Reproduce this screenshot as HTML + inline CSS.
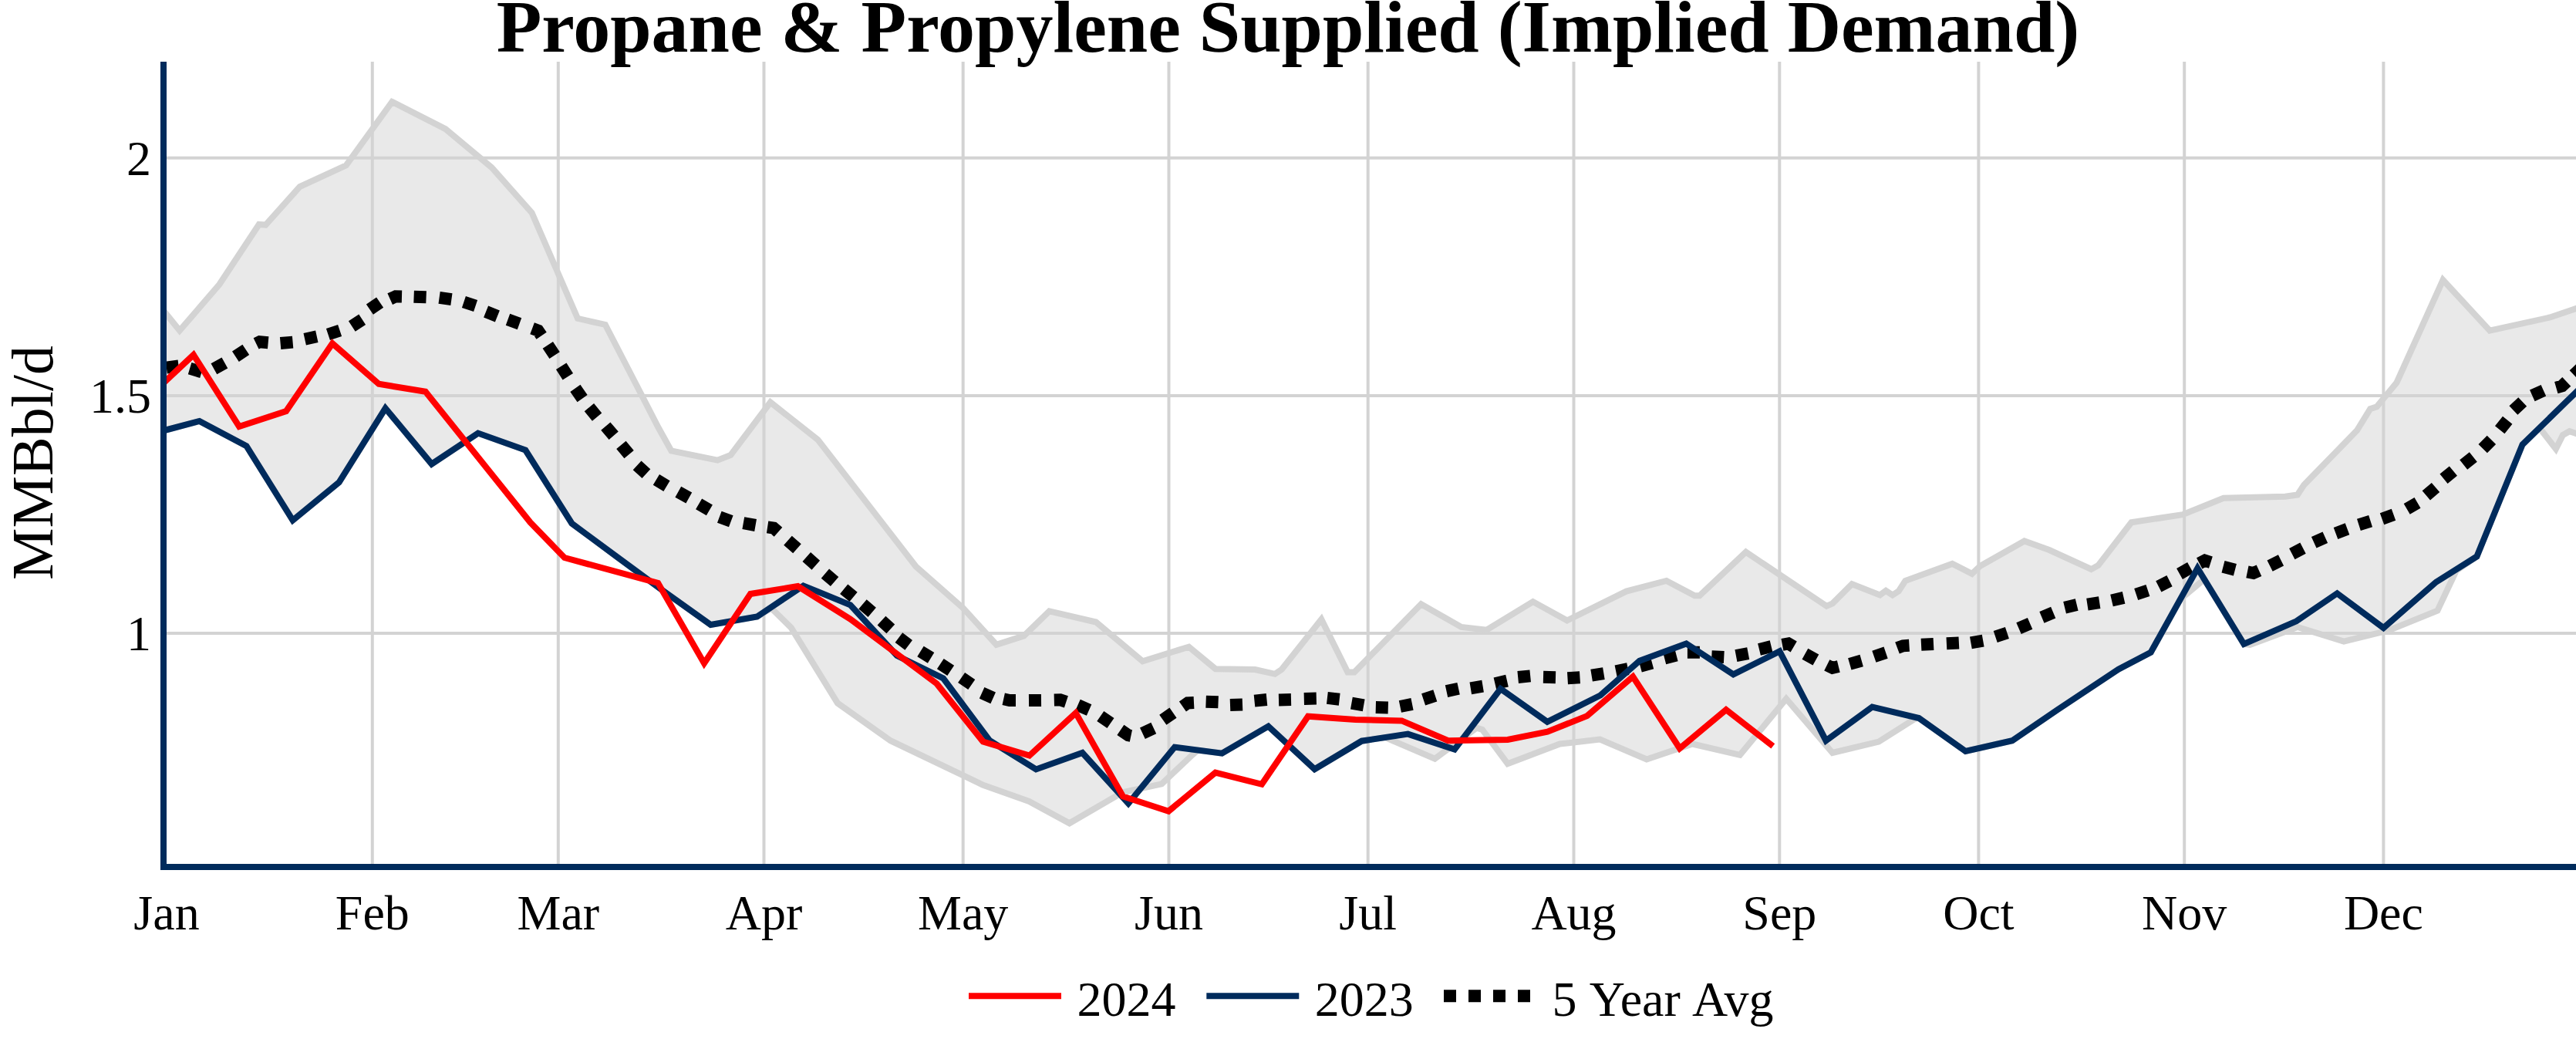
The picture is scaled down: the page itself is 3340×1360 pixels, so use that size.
<!DOCTYPE html>
<html lang="en"><head><meta charset="utf-8"><title>Propane &amp; Propylene Supplied (Implied Demand)</title>
<style>
html,body{margin:0;padding:0;background:#fff;}
body{width:3340px;height:1360px;overflow:hidden;}
svg{display:block;}
text{font-family:"Liberation Serif",serif;fill:#000;}
.tick{font-size:64px;}
.grid{stroke:#d3d3d3;stroke-width:4;fill:none;}
.ln{fill:none;stroke-linejoin:miter;stroke-miterlimit:2;}
</style></head><body>
<svg width="3340" height="1360" viewBox="0 0 3340 1360">
<rect width="3340" height="1360" fill="#ffffff"/>
<defs><clipPath id="plot"><rect x="216" y="80" width="3124" height="1040"/></clipPath></defs>

<g class="grid">
<path d="M482.8,80V1120"/>
<path d="M723.8,80V1120"/>
<path d="M990.5,80V1120"/>
<path d="M1248.7,80V1120"/>
<path d="M1515.5,80V1120"/>
<path d="M1773.7,80V1120"/>
<path d="M2040.5,80V1120"/>
<path d="M2307.3,80V1120"/>
<path d="M2565.4,80V1120"/>
<path d="M2832.2,80V1120"/>
<path d="M3090.4,80V1120"/>
<path d="M216,204.8H3340"/>
<path d="M216,513.0H3340"/>
<path d="M216,821.0H3340"/>
</g>
<g clip-path="url(#plot)">
<path d="M205.0,394.0L232.9,428.6L284.4,368.8L335.8,291.0L344.4,291.6L388.7,242.1L448.8,214.4L508.3,132.0L577.5,167.2L637.5,217.2L689.6,275.9L749.0,412.9L784.8,420.9L854.0,555.0L870.4,584.4L930.3,596.7L947.4,590.0L998.9,521.5L1060.4,570.0L1187.6,734.5L1249.0,788.6L1291.9,835.8L1327.6,824.4L1360.5,792.3L1421.0,806.5L1481.5,857.2L1541.5,838.6L1575.9,867.2L1627.3,868.0L1653.0,873.8L1661.7,868.0L1713.3,803.0L1747.4,871.5L1756.0,871.5L1842.6,783.3L1894.7,812.9L1927.6,816.6L1987.6,780.0L2032.0,804.4L2108.7,766.6L2160.7,753.0L2197.3,772.3L2203.6,772.3L2263.7,715.7L2368.3,785.8L2376.0,782.4L2401.2,757.2L2437.5,771.5L2445.2,765.8L2453.8,771.5L2461.8,766.3L2470.4,753.0L2531.3,730.9L2556.8,743.8L2567.6,733.7L2624.8,701.4L2657.0,713.0L2711.5,738.0L2720.6,733.0L2763.5,677.2L2830.0,667.2L2883.0,645.8L2963.0,643.8L2978.9,641.5L2987.4,628.6L3056.0,558.0L3073.2,530.2L3081.7,527.4L3107.5,496.0L3167.5,363.0L3228.2,428.7L3306.3,411.5L3340.0,400.0L3352.0,396.0L3352.0,566.0L3340.0,562.0L3331.6,559.2L3323.0,564.0L3313.9,582.0L3292.7,554.8L3270.6,576.3L3211.4,721.5L3184.7,740.0L3160.4,791.6L3097.5,817.3L3039.0,831.6L2978.9,813.0L2917.4,836.0L2909.4,835.0L2858.0,751.0L2827.0,777.0L2788.7,845.7L2746.8,867.7L2668.0,920.0L2609.0,960.2L2548.5,974.0L2488.0,931.0L2483.3,931.6L2436.0,961.6L2376.0,976.0L2316.0,905.9L2256.0,978.8L2194.4,964.5L2135.0,984.5L2074.5,958.5L2022.5,964.5L1954.8,990.2L1921.9,945.9L1914.7,943.6L1860.4,983.6L1796.0,956.1L1765.5,960.7L1704.5,997.3L1644.5,941.6L1584.4,976.7L1553.0,972.6L1546.0,978.6L1506.2,1016.4L1455.5,1027.4L1386.6,1067.3L1334.3,1039.0L1274.0,1017.5L1250.0,1005.8L1154.6,960.2L1086.0,911.6L1025.8,813.8L1000.0,788.5L981.6,799.5L921.5,810.0L861.9,767.5L801.7,723.3L741.5,678.7L681.3,583.6L619.8,561.6L559.7,601.6L499.7,529.3L439.6,625.4L379.6,674.5L319.5,578.2L258.6,545.9L198.5,561.9Z" fill="#d3d3d3" fill-opacity="0.5" stroke="none"/>
<path class="ln" d="M198.5,561.9L258.6,545.9L319.5,578.2L379.6,674.5L439.6,625.4L499.7,529.3L559.7,601.6L619.8,561.6L681.3,583.6L741.5,678.7L801.7,723.3L861.9,767.5L921.5,810.0L981.6,799.5L1000.0,788.5L1025.8,813.8L1086.0,911.6L1154.6,960.2L1250.0,1005.8L1274.0,1017.5L1334.3,1039.0L1386.6,1067.3L1455.5,1027.4L1506.2,1016.4L1546.0,978.6L1553.0,972.6L1584.4,976.7L1644.5,941.6L1704.5,997.3L1765.5,960.7L1796.0,956.1L1860.4,983.6L1914.7,943.6L1921.9,945.9L1954.8,990.2L2022.5,964.5L2074.5,958.5L2135.0,984.5L2194.4,964.5L2256.0,978.8L2316.0,905.9L2376.0,976.0L2436.0,961.6L2483.3,931.6L2488.0,931.0L2548.5,974.0L2609.0,960.2L2668.0,920.0L2746.8,867.7L2788.7,845.7L2827.0,777.0L2858.0,751.0L2909.4,835.0L2917.4,836.0L2978.9,813.0L3039.0,831.6L3097.5,817.3L3160.4,791.6L3184.7,740.0L3211.4,721.5L3270.6,576.3L3292.7,554.8L3313.9,582.0L3323.0,564.0L3331.6,559.2L3340.0,562.0L3352.0,566.0" stroke="#d3d3d3" stroke-width="8"/>
<path class="ln" d="M205.0,394.0L232.9,428.6L284.4,368.8L335.8,291.0L344.4,291.6L388.7,242.1L448.8,214.4L508.3,132.0L577.5,167.2L637.5,217.2L689.6,275.9L749.0,412.9L784.8,420.9L854.0,555.0L870.4,584.4L930.3,596.7L947.4,590.0L998.9,521.5L1060.4,570.0L1187.6,734.5L1249.0,788.6L1291.9,835.8L1327.6,824.4L1360.5,792.3L1421.0,806.5L1481.5,857.2L1541.5,838.6L1575.9,867.2L1627.3,868.0L1653.0,873.8L1661.7,868.0L1713.3,803.0L1747.4,871.5L1756.0,871.5L1842.6,783.3L1894.7,812.9L1927.6,816.6L1987.6,780.0L2032.0,804.4L2108.7,766.6L2160.7,753.0L2197.3,772.3L2203.6,772.3L2263.7,715.7L2368.3,785.8L2376.0,782.4L2401.2,757.2L2437.5,771.5L2445.2,765.8L2453.8,771.5L2461.8,766.3L2470.4,753.0L2531.3,730.9L2556.8,743.8L2567.6,733.7L2624.8,701.4L2657.0,713.0L2711.5,738.0L2720.6,733.0L2763.5,677.2L2830.0,667.2L2883.0,645.8L2963.0,643.8L2978.9,641.5L2987.4,628.6L3056.0,558.0L3073.2,530.2L3081.7,527.4L3107.5,496.0L3167.5,363.0L3228.2,428.7L3306.3,411.5L3340.0,400.0L3352.0,396.0" stroke="#d3d3d3" stroke-width="8"/>
<path class="ln" d="M215.8,476.5L231.6,474.5M246.1,477.7L261.5,482.3M277.4,478.3L291.4,470.5M305.4,462.2L318.8,453.4M332.1,445.4L336.7,443.2L347.7,444.2M363.6,445.0L379.6,443.6M395.2,439.7L410.8,436.3M425.4,433.5L440.6,428.5M456.3,423.0L469.7,414.2M479.4,401.1L492.6,392.1M505.7,387.6L513.0,384.3L521.0,384.5M536.6,384.7L552.6,385.3M569.6,385.9L585.4,388.1M601.4,391.5L616.6,396.5M630.1,404.0L644.9,410.0M658.5,414.3L673.5,419.7M690.1,425.8L697.6,428.6L702.1,435.2M710.3,447.3L719.1,460.7M727.7,474.8L736.3,488.2M745.9,503.4L755.1,516.6M763.9,528.2L774.1,540.6M785.3,552.6L795.7,564.8M805.4,576.8L815.6,589.2M826.1,603.4L837.9,614.2M850.9,621.9L864.5,630.1M879.3,637.7L893.3,645.5M906.1,653.3L919.9,661.3M932.8,670.2L947.8,675.8M963.8,678.2L979.6,681.0M995.1,683.3L1003.0,684.5L1009.0,689.8M1021.5,700.7L1033.5,711.3M1045.8,722.1L1057.8,732.7M1069.9,743.6L1082.1,754.0M1094.2,763.7L1106.6,773.9M1118.5,783.4L1130.7,793.8M1143.0,804.6L1154.8,815.4M1165.4,826.7L1178.2,836.3M1193.5,844.5L1207.1,852.9M1219.3,860.6L1232.7,869.4M1246.6,878.5L1259.8,887.5M1273.1,898.3L1287.7,904.9M1301.2,906.3L1309.0,908.0L1317.0,908.0M1334.0,908.1L1350.0,907.9M1366.8,907.5L1374.8,907.3L1382.4,909.8M1397.5,914.1L1412.1,920.5M1426.8,928.5L1440.0,937.5M1452.9,946.4L1463.0,953.3L1466.4,954.0M1481.4,950.7L1495.8,943.9M1507.8,933.3L1521.0,924.1M1533.4,916.0L1540.0,911.5L1548.0,911.1M1563.6,909.7L1579.6,910.3M1595.0,914.1L1611.0,913.5M1626.5,908.6L1642.5,907.0M1658.0,907.5L1674.0,907.1M1690.8,906.0L1706.8,905.6M1720.9,904.9L1736.7,906.7M1752.4,911.6L1768.2,914.4M1783.8,917.1L1799.8,917.5M1815.4,916.0L1831.0,912.8M1845.6,906.9L1860.8,901.9M1875.5,896.1L1891.1,892.7M1906.8,892.3L1922.6,889.7M1938.4,886.2L1954.0,882.6M1968.2,878.0L1984.2,876.4M2001.0,877.8L2017.0,878.2M2032.5,879.2L2048.5,878.2M2063.6,875.7L2079.4,873.1M2095.2,870.3L2110.8,867.1M2126.7,863.7L2142.1,859.5M2158.2,853.6L2173.6,849.6M2187.9,845.8L2203.9,845.8M2219.3,851.2L2235.3,852.0M2250.9,850.2L2266.7,847.2M2281.0,841.9L2296.6,838.1M2310.9,835.9L2318.8,834.4L2325.7,838.5M2340.4,847.7L2354.4,855.5M2368.8,862.3L2376.0,865.9L2383.8,864.0M2398.3,860.9L2413.7,856.5M2429.9,851.3L2445.1,846.1M2460.0,840.1L2467.5,837.3L2475.5,836.8M2491.0,835.7L2507.0,834.9M2523.9,834.2L2539.9,833.4M2555.4,833.4L2571.2,830.6M2587.2,825.5L2602.4,820.5M2617.5,814.7L2632.1,808.3M2647.4,800.3L2662.2,794.1M2677.1,787.7L2692.7,783.9M2706.4,783.6L2722.2,781.2M2738.0,778.5L2753.6,774.9M2769.7,770.5L2784.9,765.5M2798.8,760.3L2813.0,753.1M2826.0,743.9L2840.0,736.1M2851.7,730.4L2858.8,726.7L2866.4,729.1M2882.5,734.7L2897.9,738.7M2913.9,741.4L2921.7,743.0L2929.0,739.7M2943.1,733.6L2957.5,726.4M2971.8,718.1L2986.0,710.7M3000.2,703.3L3014.8,696.7M3028.5,691.4L3043.5,685.8M3058.4,680.4L3073.6,675.6M3088.5,672.7L3103.5,667.3M3120.7,659.8L3134.5,651.8M3145.8,642.4L3158.0,632.0M3168.5,620.8L3180.9,610.6M3194.2,602.5L3206.8,592.5M3219.2,581.7L3230.4,570.3M3241.2,557.2L3251.2,544.8M3258.9,532.0L3270.7,521.0M3283.3,512.9L3297.9,506.3M3314.3,502.6L3322.0,500.4L3327.8,494.9M3337.2,486.0L3348.8,475.0" stroke="#000" stroke-width="16"/>
<path class="ln" d="M198.5,561.9L258.6,545.9L319.5,578.2L379.6,674.5L439.6,625.4L499.7,529.3L559.7,601.6L619.8,561.6L681.3,583.6L741.5,678.7L801.7,723.3L861.9,767.5L921.5,810.0L981.6,799.5L1041.6,759.4L1102.5,784.3L1163.0,850.0L1223.0,879.3L1283.0,960.0L1343.3,997.4L1403.4,976.0L1463.0,1041.7L1523.0,968.7L1584.4,976.7L1644.5,941.6L1704.5,997.3L1765.5,960.7L1825.5,951.6L1886.0,971.6L1945.6,893.0L2006.2,935.8L2075.0,901.5L2125.8,856.7L2186.4,834.4L2247.4,874.4L2307.4,844.4L2367.5,960.2L2427.5,916.5L2488.0,931.0L2548.5,974.0L2609.0,960.2L2668.0,920.0L2746.8,867.7L2788.7,845.7L2849.3,736.7L2909.4,835.0L2977.5,805.3L3030.3,769.3L3090.4,814.0L3158.6,754.6L3211.4,721.5L3270.6,576.3L3331.5,516.9L3352.0,496.9" stroke="#002b5c" stroke-width="8"/>
<path class="ln" d="M190.8,516.3L250.9,460.0L310.1,553.0L371.0,533.0L431.0,445.2L491.1,497.8L551.7,507.8L687.6,677.3L731.9,723.0L853.2,756.0L913.0,860.0L973.0,770.0L1034.5,760.0L1102.4,802.6L1214.6,886.4L1274.7,961.6L1334.7,979.6L1394.8,924.4L1456.0,1032.5L1515.2,1051.7L1575.9,1001.6L1636.0,1016.8L1696.0,928.7L1757.4,933.0L1817.5,934.4L1877.6,960.2L1954.9,959.0L2006.4,948.7L2057.9,928.1L2117.2,877.3L2177.9,970.2L2238.0,920.2L2298.8,967.4" stroke="#ff0000" stroke-width="8"/>
</g>
<path d="M212,80V1128" stroke="#002b5c" stroke-width="8" fill="none"/>
<path d="M208,1124H3340" stroke="#002b5c" stroke-width="8" fill="none"/>
<g class="tick" text-anchor="middle">
<text x="216.0" y="1205">Jan</text>
<text x="482.8" y="1205">Feb</text>
<text x="723.8" y="1205">Mar</text>
<text x="990.5" y="1205">Apr</text>
<text x="1248.7" y="1205">May</text>
<text x="1515.5" y="1205">Jun</text>
<text x="1773.7" y="1205">Jul</text>
<text x="2040.5" y="1205">Aug</text>
<text x="2307.3" y="1205">Sep</text>
<text x="2565.4" y="1205">Oct</text>
<text x="2832.2" y="1205">Nov</text>
<text x="3090.4" y="1205">Dec</text>
</g>
<g class="tick" text-anchor="end">
<text x="196" y="226.8">2</text>
<text x="196" y="535.0">1.5</text>
<text x="196" y="843.0">1</text>
</g>
<text transform="translate(67.5,600) rotate(-90)" text-anchor="middle" font-size="76">MMBbl/d</text>
<text x="1670" y="67" text-anchor="middle" font-size="96" font-weight="bold">Propane &amp; Propylene Supplied (Implied Demand)</text>
<g class="tick">
<path d="M1256,1291.3H1376" stroke="#ff0000" stroke-width="8"/>
<text x="1396.5" y="1317">2024</text>
<path d="M1564.3,1291.3H1684.3" stroke="#002b5c" stroke-width="8"/>
<text x="1704.8" y="1317">2023</text>
<path d="M1872,1291.3H1992" stroke="#000" stroke-width="16" stroke-dasharray="16,16"/>
<text x="2012.5" y="1317" word-spacing="2.7">5 Year Avg</text>
</g>
</svg></body></html>
